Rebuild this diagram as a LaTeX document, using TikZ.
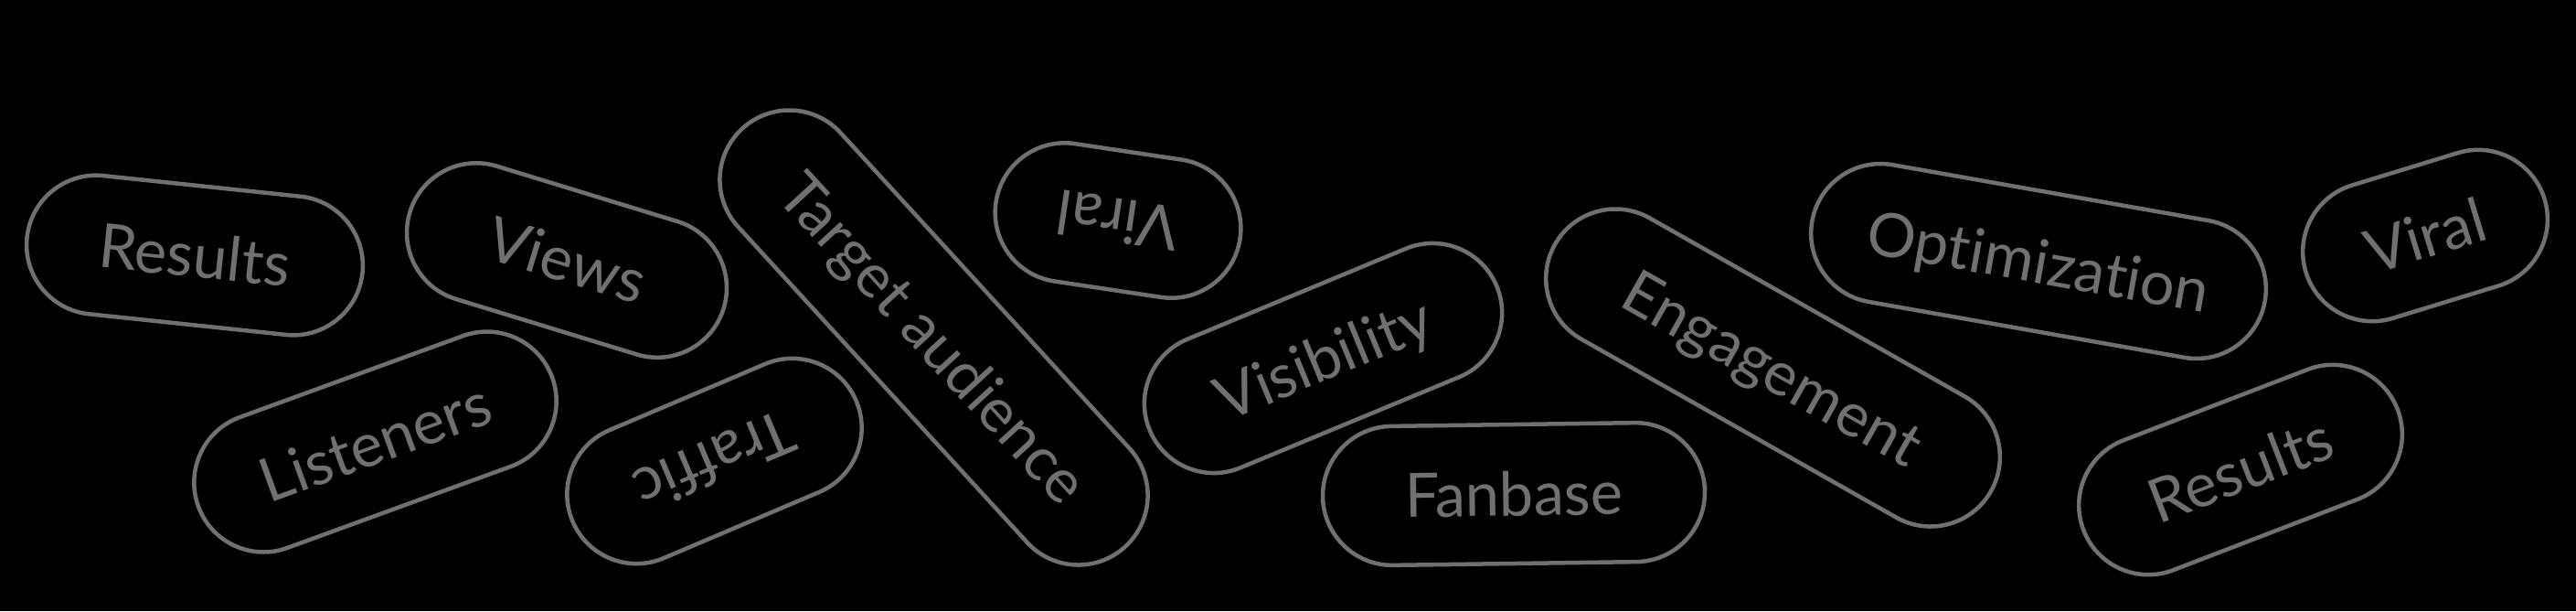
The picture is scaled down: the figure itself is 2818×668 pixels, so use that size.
\documentclass[tikz,border=0pt]{standalone}
\usepackage{fontspec}
\setmainfont{Lato}[Ligatures={NoCommon}]
\definecolor{pillgray}{RGB}{112,112,112}
\begin{document}
\begin{tikzpicture}[x=0.1mm,y=-0.1mm,
  pill/.style={draw=pillgray, line width=0.45mm, rounded corners=7.6mm,
    minimum height=15.2mm, inner sep=0pt, text=pillgray,
    font=\fontsize{19pt}{19pt}\selectfont, text height=4.8mm, text depth=0pt}]
\fill[black] (0,0) rectangle (2818,668);
\useasboundingbox (0,0) rectangle (2818,668);
\node[pill, minimum width=36.9mm, rotate=-6]    (results1)     at (213,279)     {Results};
\node[pill, minimum width=35.9mm, rotate=-17]   (views)        at (620,284.5)   {Views};
\node[pill, minimum width=41.2mm, rotate=20]    (listeners)    at (410.5,483)   {Listeners};
\node[pill, minimum width=33.7mm, rotate=203]   (traffic)      at (781.5,504)   {Traffic};
\node[pill, minimum width=62mm,   rotate=-47.5] (target)       at (1021.5,369)  {Target audience};
\node[pill, minimum width=27mm,   rotate=171.5] (viral1)       at (1223,241)    {Viral};
\node[pill, minimum width=41.1mm, rotate=22.5]  (visibility)   at (1447.5,391.5){Visibility};
\node[pill, minimum width=41.8mm, rotate=0.8]   (fanbase)      at (1656,540)    {Fanbase};
\node[pill, minimum width=54.8mm, rotate=-29.5] (engagement)   at (1939.5,402)  {Engagement};
\node[pill, minimum width=50.3mm, rotate=-10]   (optimization) at (2230,285.5)  {Optimization};
\node[pill, minimum width=27.3mm, rotate=17]    (viral2)       at (2653,257.5)  {Viral};
\node[pill, minimum width=36.8mm, rotate=21]    (results2)     at (2451,513.5)  {Results};
\end{tikzpicture}
\end{document}
